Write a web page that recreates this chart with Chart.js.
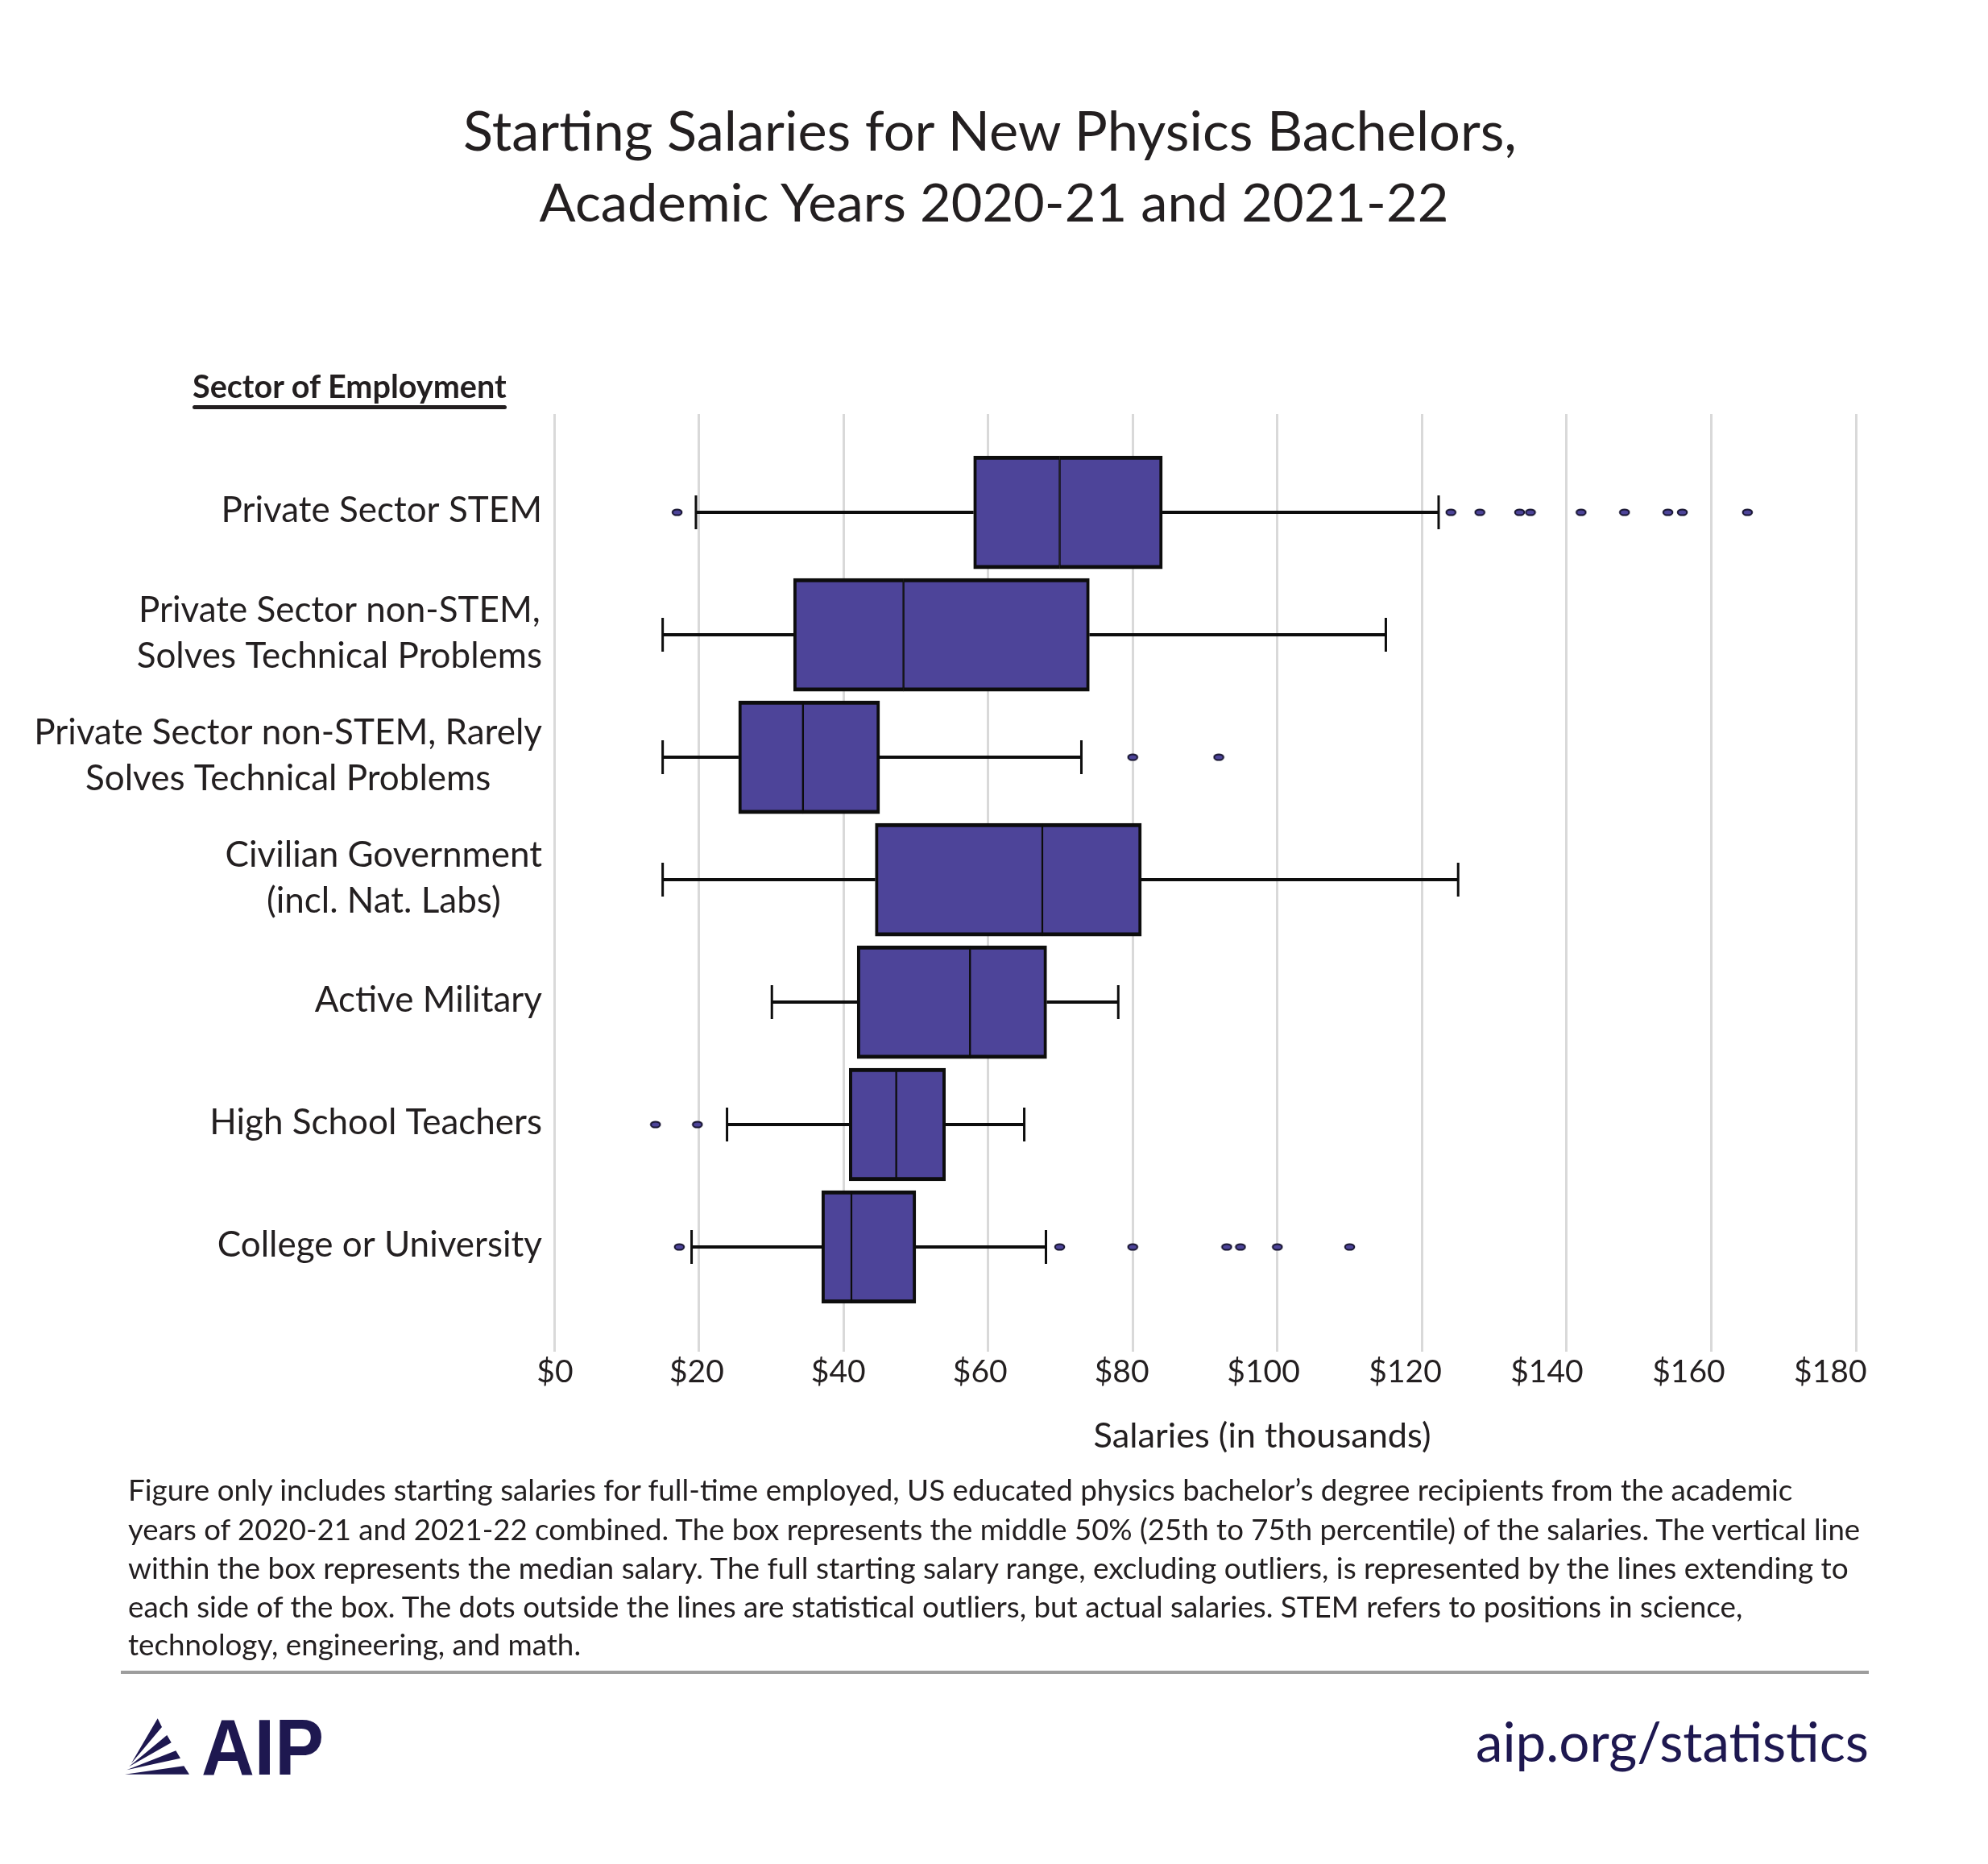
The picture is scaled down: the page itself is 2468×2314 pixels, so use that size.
<!DOCTYPE html>
<html>
<head>
<meta charset="utf-8">
<title>Starting Salaries for New Physics Bachelors</title>
<script src="https://cdn.jsdelivr.net/npm/chart.js@4.4.1/dist/chart.umd.min.js"></script>
<style>
  html, body { margin: 0; padding: 0; background: #fff; }
  #page { position: relative; width: 2468px; height: 2314px; overflow: hidden; }
  #chartBox { position: absolute; left: 0; top: 0; width: 2468px; height: 2314px; }
  #overlay { position: absolute; left: 0; top: 0; }
  #overlay text { font-family: Lato, 'Open Sans', sans-serif; fill: #231f20; }
</style>
</head>
<body>
<div id="page">
  <div id="chartBox"><canvas id="salaryChart"></canvas></div>
  <svg id="overlay" width="2468" height="2314" viewBox="0 0 2468 2314">
    <text id="title1" x="1229" y="187" text-anchor="middle" font-size="74">Starting Salaries for New Physics Bachelors,</text>
    <text id="title2" x="1234" y="275" text-anchor="middle" font-size="74">Academic Years 2020-21 and 2021-22</text>

    <text id="sectorHead" x="239" y="494" font-size="34" font-weight="700">Sector of Employment</text>
    <rect x="239" y="503" width="390" height="5" rx="2.5" fill="#231f20"/>

    <text id="xTitle" x="1567" y="1797" text-anchor="middle" font-size="42">Salaries (in thousands)</text>

    <g id="note">
      <text x="159" y="1863" font-size="31">Figure only includes starting salaries for full-time employed, US educated physics bachelor’s degree recipients from the academic</text>
      <text x="159" y="1912" font-size="31">years of 2020-21 and 2021-22 combined. The box represents the middle 50% (25th to 75th percentile) of the salaries. The vertical line</text>
      <text x="159" y="1960" font-size="31">within the box represents the median salary. The full starting salary range, excluding outliers, is represented by the lines extending to</text>
      <text x="159" y="2008" font-size="31">each side of the box. The dots outside the lines are statistical outliers, but actual salaries. STEM refers to positions in science,</text>
      <text x="159" y="2055" font-size="31">technology, engineering, and math.</text>
    </g>
    <rect x="150" y="2074" width="2170" height="4" fill="#9d9d9d"/>

    <g fill="#1e1850">
      <polygon points="163,2189 195.7,2133.3 201,2144"/>
      <polygon points="160,2193.3 207.3,2154 212.7,2163.3"/>
      <polygon points="157.3,2197.3 218.3,2173.3 224,2182.7"/>
      <polygon points="155,2202.7 228.3,2192.3 235,2202.7"/>
    </g>
    <text x="250" y="2203" font-size="98" font-weight="700" textLength="152" lengthAdjust="spacingAndGlyphs"
          style="fill:#1e1850;font-family:'Liberation Sans', Arial, sans-serif">AIP</text>
    <text id="aipUrl" x="2320" y="2187" text-anchor="end" font-size="78" style="fill:#1e1850">aip.org/statistics</text>
  </svg>
</div>

<script>
// sectors, top to bottom
const sectors = [
  'Private Sector STEM',
  ['Private Sector non-STEM,', 'Solves Technical Problems'],
  ['Private Sector non-STEM, Rarely', 'Solves Technical Problems'],
  ['Civilian Government', '(incl. Nat. Labs)'],
  'Active Military',
  'High School Teachers',
  'College or University'
];

// salaries in thousands of dollars
const whiskerLow  = [19.6, 15.0, 15.0, 15.0, 30.1, 23.9, 19.0];
const q1          = [58.0, 33.1, 25.5, 44.4, 41.9, 40.8, 37.0];
const median      = [69.9, 48.3, 34.4, 67.5, 57.5, 47.3, 41.1];
const q3          = [84.1, 74.0, 45.0, 81.2, 68.1, 54.1, 50.0];
const whiskerHigh = [122.3, 115.0, 72.9, 125.0, 78.0, 65.0, 68.0];
const outliers = [
  [17.0, 124.0, 128.0, 133.5, 135.0, 142.0, 148.0, 154.0, 156.0, 165.0],
  [],
  [80.0, 91.9],
  [],
  [],
  [14.0, 19.8],
  [17.3, 69.9, 80.0, 93.0, 94.9, 100.0, 110.0]
];

const salaryTicks = [0, 20, 40, 60, 80, 100, 120, 140, 160, 180];

const fontFamily = "Lato, 'Open Sans', sans-serif";
const boxFill = '#4d4499';
const ink = '#0d0d0d';
const textColor = '#231f20';

// size the overlay texts to the widths they have in the original
function fitText(el, target) {
  const base = parseFloat(el.getAttribute('font-size'));
  const size = base * target / el.getComputedTextLength();
  el.setAttribute('font-size', size.toFixed(2));
  return size;
}
fitText(document.getElementById('title1'), 1308);
fitText(document.getElementById('title2'), 1129);
fitText(document.getElementById('sectorHead'), 390);
fitText(document.getElementById('xTitle'), 419);
fitText(document.getElementById('aipUrl'), 488);
const noteLines = document.querySelectorAll('#note text');
const s1 = fitText(noteLines[0], 2067);
const s2 = fitText(noteLines[1], 2151);
const s3 = fitText(noteLines[2], 2136);
const restSize = ((s1 + s2 + s3) / 3).toFixed(2);
noteLines[3].setAttribute('font-size', restSize);
noteLines[4].setAttribute('font-size', restSize);

// outlier marker: small flat ellipse
const dot = document.createElement('canvas');
dot.width = 15;
dot.height = 10;
const dctx = dot.getContext('2d');
dctx.beginPath();
dctx.ellipse(7.5, 5, 5.8, 3.6, 0, 0, Math.PI * 2);
dctx.fillStyle = boxFill;
dctx.fill();
dctx.lineWidth = 2;
dctx.strokeStyle = '#15122e';
dctx.stroke();

// whisker lines and caps, drawn under the boxes
const whiskerPlugin = {
  id: 'whiskers',
  beforeDatasetsDraw(chart) {
    const { ctx, scales: { x, y } } = chart;
    ctx.save();
    ctx.strokeStyle = ink;
    sectors.forEach((_, i) => {
      const yc = y.getPixelForValue(i);
      const xl = x.getPixelForValue(whiskerLow[i]);
      const xh = x.getPixelForValue(whiskerHigh[i]);
      ctx.lineWidth = 4;
      ctx.beginPath();
      ctx.moveTo(xl, yc);
      ctx.lineTo(x.getPixelForValue(q1[i]), yc);
      ctx.moveTo(x.getPixelForValue(q3[i]), yc);
      ctx.lineTo(xh, yc);
      ctx.stroke();
      ctx.lineWidth = 3;
      ctx.beginPath();
      ctx.moveTo(xl, yc - 21);
      ctx.lineTo(xl, yc + 21);
      ctx.moveTo(xh, yc - 21);
      ctx.lineTo(xh, yc + 21);
      ctx.stroke();
    });
    ctx.restore();
  }
};

// sector names: right edge next to the plot, lines of a name centred on each other
const sectorLabelPlugin = {
  id: 'sectorLabels',
  afterDraw(chart) {
    const { ctx, chartArea, scales: { y } } = chart;
    ctx.save();
    ctx.font = '44px ' + fontFamily;
    ctx.fillStyle = textColor;
    ctx.textAlign = 'center';
    ctx.textBaseline = 'middle';
    const right = chartArea.left - 15;
    sectors.forEach((label, i) => {
      const lines = [].concat(label);
      const w = Math.max(...lines.map(l => ctx.measureText(l).width));
      const cx = right - w / 2;
      const yc = y.getPixelForValue(i) - 2;
      lines.forEach((line, k) => {
        ctx.fillText(line, cx, yc + (k - (lines.length - 1) / 2) * 57);
      });
    });
    ctx.restore();
  }
};

const outlierPoints = [];
outliers.forEach((list, i) => list.forEach(v => outlierPoints.push({ x: v, y: i })));

Chart.defaults.font.family = fontFamily;
Chart.defaults.color = textColor;

new Chart(document.getElementById('salaryChart'), {
  type: 'bar',
  data: {
    datasets: [
      {
        label: 'Lower half',
        xAxisID: 'x',
        yAxisID: 'y',
        data: sectors.map((_, i) => ({ y: i, x: [q1[i], median[i]] })),
        backgroundColor: boxFill,
        borderColor: ink,
        borderWidth: { top: 5, bottom: 5, left: 4, right: 1.5 },
        borderSkipped: false,
        barThickness: 140,
        grouped: false
      },
      {
        label: 'Upper half',
        xAxisID: 'x',
        yAxisID: 'y',
        data: sectors.map((_, i) => ({ y: i, x: [median[i], q3[i]] })),
        backgroundColor: boxFill,
        borderColor: ink,
        borderWidth: { top: 5, bottom: 5, left: 1.5, right: 4 },
        borderSkipped: false,
        barThickness: 140,
        grouped: false
      },
      {
        type: 'scatter',
        label: 'Outliers',
        xAxisID: 'x',
        yAxisID: 'y',
        data: outlierPoints,
        pointStyle: dot,
        pointRadius: 6
      }
    ]
  },
  options: {
    indexAxis: 'y',
    responsive: true,
    maintainAspectRatio: false,
    animation: false,
    layout: { padding: { top: 514, right: 164, bottom: 576, left: 0 } },
    plugins: {
      legend: { display: false },
      tooltip: { enabled: false },
      title: { display: false }
    },
    scales: {
      x: {
        type: 'linear',
        position: 'bottom',
        min: 0,
        max: 180,
        afterBuildTicks: s => { s.ticks = salaryTicks.map(v => ({ value: v })); },
        afterFit: s => { s.height = 0; },
        ticks: { display: false },
        grid: { color: '#d9d9d9', lineWidth: 3, drawTicks: false },
        border: { display: false }
      },
      // the printed dollar labels sit on a slightly tighter spacing than the gridlines
      xLabels: {
        type: 'linear',
        position: 'bottom',
        min: -0.1,
        max: 183.6,
        afterBuildTicks: s => { s.ticks = salaryTicks.map(v => ({ value: v })); },
        afterFit: s => { s.height = 60; },
        ticks: {
          callback: v => '$' + v,
          font: { size: 39 },
          color: textColor,
          padding: 2,
          maxRotation: 0,
          autoSkip: false
        },
        grid: { display: false, drawTicks: false },
        border: { display: false }
      },
      y: {
        type: 'linear',
        reverse: true,
        offset: false,
        min: -0.803,
        max: 6.855,
        afterBuildTicks: s => { s.ticks = sectors.map((_, i) => ({ value: i })); },
        afterFit: s => { s.width = 688; },
        ticks: { display: false },
        grid: { display: false, offset: false },
        border: { display: false }
      }
    }
  },
  plugins: [whiskerPlugin, sectorLabelPlugin]
});
</script>
</body>
</html>
